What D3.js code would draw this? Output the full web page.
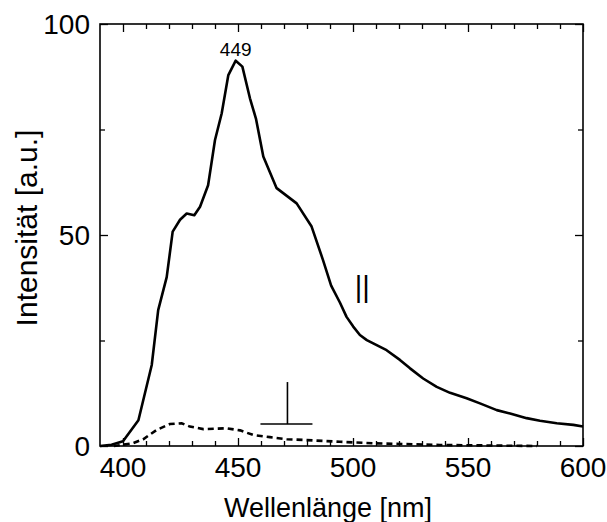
<!DOCTYPE html>
<html><head><meta charset="utf-8">
<script src="https://cdn.jsdelivr.net/npm/d3@7"></script>
<style>body{margin:0;background:#fff}svg{display:block}text{font-family:"Liberation Sans",Arial,sans-serif;fill:#000}</style>
</head><body><svg id="c" width="607" height="522"></svg>
<script>
const parallelWl = [390,395,400,406.7,412.5,415.3,419,421.6,424.8,427.7,431,433.5,437,440,442.9,445.8,449,451.9,455.2,457.8,461,466.8,475.5,482,487,490.5,494.3,497.2,500.1,503,506,508.8,514.6,520.4,524.8,530.5,536.4,542.2,549.4,555.2,562.5,568.3,575.5,581.3,588.6,595.8,600];
const parallelI  = [0,0.3,1.1,6.1,19.2,32.2,40,50.8,53.6,55.1,54.7,56.7,61.8,72.5,78.8,87.9,91.3,89.9,82.4,77.6,68.6,61.1,57.5,52,44,38,34,30.6,28.3,26.3,25.1,24.3,22.7,20.4,18.4,16,14,12.6,11.3,10.1,8.5,7.7,6.6,6,5.4,5,4.6];
const perpWl = [396,404,408.8,414.6,420.4,425.5,429.1,434.9,445,450.9,456.7,463.9,471.2,479.9,494.3,508.8,523.3,537.8,555,570,580];
const perpI  = [0,0.6,1.6,3.8,5.2,5.4,4.6,4.0,4.2,3.7,2.6,2.1,1.6,1.4,1.0,0.64,0.47,0.24,0.15,0.05,0];
const xTicks = [400,450,500,550,600];
const yTicks = [0,50,100];
const peakLabel = "449";
const peakWl = 449, peakI = 91.3;

const svg = d3.select("#c");
const L=100, R=583, T=24, B=446;
const x = d3.scaleLinear().domain([390,600]).range([L,R]);
const y = d3.scaleLinear().domain([0,100]).range([B,T]);

const g = svg.append("g");
const minorX = d3.range(400,601,10);
const minorY = d3.range(0,101,25);

function mk(i){ return i===0?d3.axisTop(x):i===1?d3.axisBottom(x):i===2?d3.axisRight(y):d3.axisLeft(y); }
const sides = [
  [`translate(0,${B})`, minorX, xTicks],
  [`translate(0,${T})`, minorX, xTicks],
  [`translate(${L},0)`, minorY, yTicks],
  [`translate(${R},0)`, minorY, yTicks]
];
sides.forEach(([tr, minor, major], i)=>{
  [[minor.filter(v=>!major.includes(v)),5],[major,8]].forEach(([vals,len])=>{
    const a = mk(i).tickValues(vals).tickSize(len).tickSizeOuter(0).tickFormat("");
    const ga = g.append("g").attr("transform",tr).call(a);
    ga.select(".domain").remove();
    ga.selectAll("line").attr("stroke","#000").attr("stroke-width",1.3);
  });
});

// frame
g.append("rect").attr("x",L).attr("y",T).attr("width",R-L).attr("height",B-T)
 .attr("fill","none").attr("stroke","#000").attr("stroke-width",1.6);

// tick labels
g.selectAll(".xl").data(xTicks).enter().append("text")
 .attr("x",d=>x(d)).attr("y",B+31).attr("text-anchor","middle").attr("font-size",28).text(d=>d);
g.selectAll(".yl").data(yTicks).enter().append("text")
 .attr("x",L-10).attr("y",d=>y(d)+10).attr("text-anchor","end").attr("font-size",28).text(d=>d);

// curves
const line = d3.line().x(d=>x(d[0])).y(d=>y(d[1]));
g.append("path").datum(d3.zip(parallelWl,parallelI)).attr("d",line)
 .attr("fill","none").attr("stroke","#000").attr("stroke-width",2.6).attr("stroke-linejoin","round");
g.append("path").datum(d3.zip(perpWl,perpI)).attr("d",line)
 .attr("fill","none").attr("stroke","#000").attr("stroke-width",2.6).attr("stroke-dasharray","6,4");

// peak label
g.append("text").attr("x",x(peakWl)).attr("y",y(peakI)-5).attr("text-anchor","middle")
 .attr("font-size",19).text(peakLabel);

// polarization marks
g.append("text").attr("x",x(504)).attr("y",y(34.5)-3).attr("text-anchor","middle")
 .attr("font-size",29).text("||");
const pc = x(471.5), pb = y(5.2);
g.append("line").attr("x1",pc).attr("x2",pc).attr("y1",pb).attr("y2",pb-42).attr("stroke","#000").attr("stroke-width",1.6);
g.append("line").attr("x1",pc-27).attr("x2",pc+25).attr("y1",pb).attr("y2",pb).attr("stroke","#000").attr("stroke-width",1.6);

// axis titles
svg.append("text").attr("x",328).attr("y",517).attr("text-anchor","middle").attr("font-size",27).text("Wellenlänge [nm]");
svg.append("text").attr("transform","translate(37,228) rotate(-90)").attr("text-anchor","middle").attr("font-size",30).text("Intensität [a.u.]");
</script></body></html>
